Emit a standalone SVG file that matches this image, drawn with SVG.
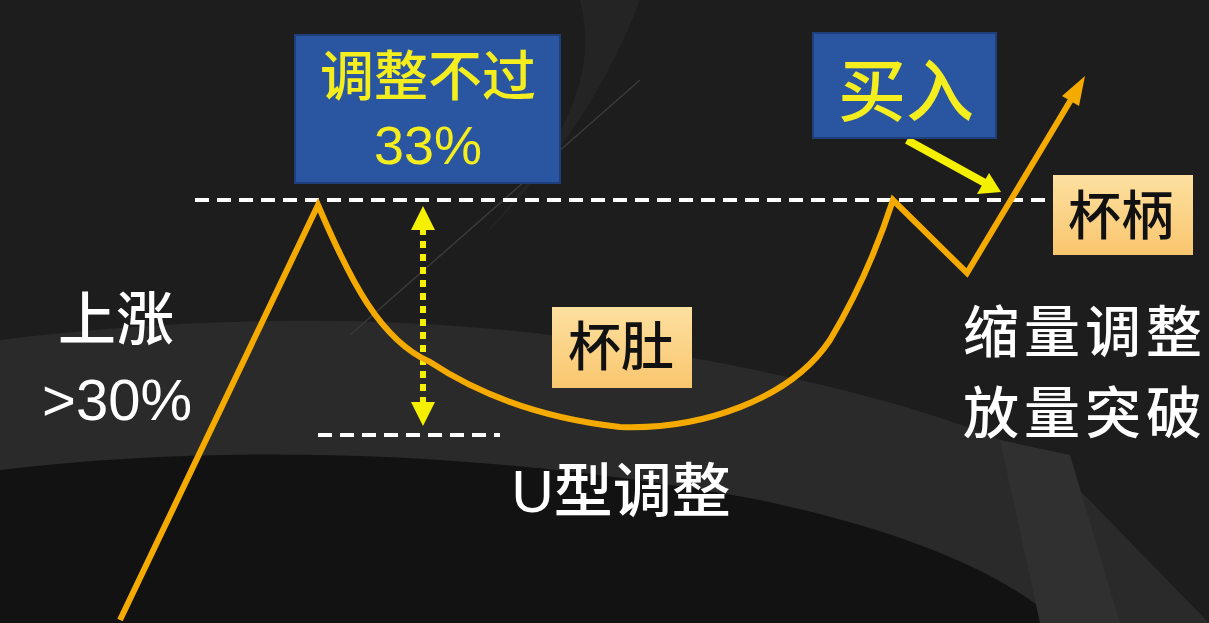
<svg xmlns="http://www.w3.org/2000/svg" width="1209" height="623" viewBox="0 0 1209 623">
<defs>
<style>
.cjk{font-family:"Noto Sans CJK SC","Noto Sans",sans-serif;font-weight:500;}
.num{font-family:"Liberation Sans","Noto Sans CJK SC",sans-serif;}
.dash{stroke:#ffffff;stroke-width:4;stroke-dasharray:14 8;fill:none;}
.price{stroke:#f5aa00;stroke-width:6;fill:none;stroke-linejoin:miter;}
.blue{fill:#2a55a0;stroke:#1e3f7c;stroke-width:2;}
.tag{fill:url(#tagGrad);}
.ytext{fill:#f5ee1e;}
.wtext{fill:#ffffff;}
.btext{fill:#111111;}
</style>
<linearGradient id="tagGrad" x1="0" y1="0" x2="0" y2="1">
<stop offset="0" stop-color="#fde0a0"/>
<stop offset="1" stop-color="#f9c66e"/>
</linearGradient>
</defs>

<!-- background -->
<rect x="0" y="0" width="1209" height="623" fill="#1d1d1d"/>
<path d="M0,340 C200,315 420,312 620,345 C820,378 980,420 1060,470 L1209,623 L0,623 Z" fill="#2a2a2a"/>
<path d="M0,470 C250,440 520,455 760,500 C900,530 1000,570 1060,623 L0,623 Z" fill="#121212"/>
<path d="M580,0 L640,0 C610,80 560,160 480,240 C560,150 600,80 580,0 Z" fill="#242424"/>
<line x1="640" y1="80" x2="350" y2="335" stroke="#3a3a3a" stroke-width="1.5"/>
<path d="M1000,440 L1070,455 L1120,623 L1040,623 Z" fill="#303030"/>

<!-- connectors / lines -->
<g id="connectors">
<line class="dash" x1="195" y1="200" x2="1055" y2="200"/>
<line class="dash" x1="318" y1="435" x2="500" y2="435"/>
<line x1="423" y1="228" x2="423" y2="404" stroke="#f5f000" stroke-width="6" stroke-dasharray="7 6"/>
<path d="M423,206 L411,230 L435,230 Z" fill="#f5f000"/>
<path d="M423,426 L411,402 L435,402 Z" fill="#f5f000"/>
<path class="price" d="M120,620 L318,205 C350,280 380,340 430,362 C480,395 540,418 620,427 C700,430 790,400 830,340 C860,290 880,240 893,200 L967,273 L1072,98"/>
<path d="M1085,76 L1062,96 L1079,106 Z" fill="#f5aa00"/>
<line x1="907" y1="140" x2="985" y2="183" stroke="#f5f000" stroke-width="8"/>
<path d="M1001,192 L977,194 L989,173 Z" fill="#f5f000"/>
</g>

<g id="box-adjust">
<rect class="blue" x="295" y="35" width="265" height="148"/>
<text class="cjk ytext" x="428" y="96" font-size="54" text-anchor="middle">调整不过</text>
<text class="num ytext" x="428" y="164" font-size="54" text-anchor="middle">33%</text>
</g>

<g id="box-buy">
<rect class="blue" x="813" y="33" width="183" height="105"/>
<text class="cjk ytext" x="906" y="116" font-size="68" text-anchor="middle">买入</text>
</g>

<g id="tag-handle">
<rect class="tag" x="1053" y="175" width="140" height="80"/>
<text class="cjk btext" x="1121" y="235" font-size="53" text-anchor="middle">杯柄</text>
</g>

<g id="tag-belly">
<rect class="tag" x="552" y="307" width="140" height="81"/>
<text class="cjk btext" x="621" y="366" font-size="53" text-anchor="middle">杯肚</text>
</g>

<g id="label-rise">
<text class="cjk wtext" x="116" y="340" font-size="58" text-anchor="middle">上涨</text>
<text class="num wtext" x="117" y="420" font-size="58" text-anchor="middle">&gt;30%</text>
</g>

<g id="label-u">
<text class="cjk wtext" x="621" y="512" font-size="59" text-anchor="middle"><tspan class="num">U</tspan>型调整</text>
</g>

<g id="label-volume">
<text class="cjk wtext" x="1085" y="352" font-size="56" letter-spacing="5" text-anchor="middle">缩量调整</text>
<text class="cjk wtext" x="1085" y="433" font-size="56" letter-spacing="5" text-anchor="middle">放量突破</text>
</g>
</svg>
